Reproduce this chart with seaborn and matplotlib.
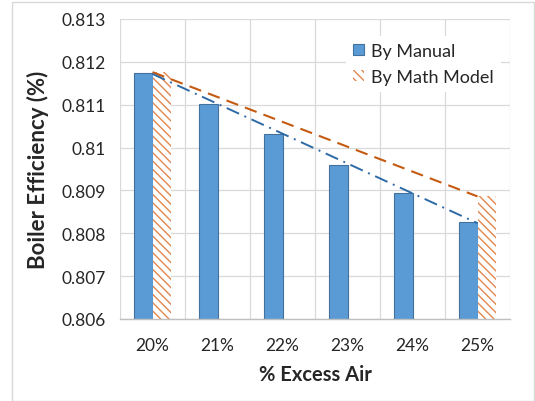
import numpy as np
import pandas as pd
import matplotlib
matplotlib.use("Agg")
import matplotlib.pyplot as plt
import seaborn as sns
from matplotlib.patches import Patch, Rectangle
from matplotlib.ticker import FuncFormatter

# Boiler efficiency against excess air
categories = ["20%", "21%", "22%", "23%", "24%", "25%"]
by_manual = [0.81174, 0.81102, 0.81031, 0.80960, 0.80893, 0.80826]
by_math_model = [0.81176, np.nan, np.nan, np.nan, np.nan, 0.80886]
series_names = ["By Manual", "By Math Model"]
y_ticks = [0.806, 0.807, 0.808, 0.809, 0.810, 0.811, 0.812, 0.813]

sns.set_theme(style="white")
plt.rcParams["font.family"] = ["Lato", "DejaVu Sans"]
plt.rcParams["hatch.linewidth"] = 1.0

df = pd.DataFrame({
    "Excess Air": categories * 2,
    "Series": [series_names[0]] * len(categories) + [series_names[1]] * len(categories),
    "Efficiency": by_manual + by_math_model,
})

blue = "#5B9BD5"
blue_edge = "#41719C"
orange = "#E2874E"
hatch = "\\\\\\\\"

fig = plt.figure(figsize=(5.35, 4.02), dpi=100)
ax = fig.add_axes([120 / 535, 82 / 402, 390 / 535, 300 / 402])

sns.barplot(data=df, x="Excess Air", y="Efficiency", hue="Series",
            hue_order=series_names, order=categories,
            palette=[blue, "white"], width=0.56, gap=0.0,
            errorbar=None, legend=False, ax=ax)

n = len(categories)
for i, bar in enumerate(ax.patches):
    if i < n:
        bar.set_facecolor(blue)
        bar.set_edgecolor(blue_edge)
        bar.set_linewidth(0.8)
    else:
        bar.set_facecolor("white")
        bar.set_edgecolor(orange)
        bar.set_hatch(hatch)
        bar.set_linewidth(0)

# Linear trendlines through the category centres
xs = np.arange(n)
man = np.array(by_manual)
mm = np.array(by_math_model)
ok = ~np.isnan(mm)
p1 = np.polyfit(xs, man, 1)
p2 = np.polyfit(xs[ok], mm[ok], 1)
ax.plot(xs, np.polyval(p2, xs), color="#C55A11", lw=1.5, ls=(0, (6, 3.5)), zorder=4)
ax.plot(xs, np.polyval(p1, xs), color="#2E6AA6", lw=1.4, ls=(0, (7, 3, 1, 3)), zorder=4)

ax.set_ylim(y_ticks[0], y_ticks[-1])
ax.set_xlim(-0.5, n - 0.5)
ax.set_yticks(y_ticks)
ax.yaxis.set_major_formatter(FuncFormatter(lambda v, _: f"{v:.3f}".rstrip("0")))
ax.set_xticks(xs)
ax.set_xticklabels(categories)
ax.set_xticks(np.arange(-0.5, n, 1), minor=True)

ax.set_axisbelow(True)
ax.grid(axis="y", which="major", color="#D9D9D9", lw=0.9)
ax.grid(axis="x", which="minor", color="#D9D9D9", lw=0.9)
ax.grid(axis="x", which="major", visible=False)
for side in ["top", "right", "left"]:
    ax.spines[side].set_visible(False)
ax.spines["bottom"].set_color("#BFBFBF")
ax.spines["bottom"].set_linewidth(1.0)

ax.tick_params(axis="both", which="both", length=0, labelsize=12.5, colors="#262626")
ax.tick_params(axis="x", pad=13)
ax.tick_params(axis="y", pad=10)

ax.set_xlabel("% Excess Air", fontsize=14.5, fontweight="bold", color="#262626", labelpad=8)
ax.set_ylabel("Boiler Efficiency (%)", fontsize=16, fontweight="bold", color="#262626", labelpad=9)

handles = [Patch(facecolor=blue, edgecolor=blue_edge, linewidth=0.8),
           Patch(facecolor="white", edgecolor=orange, hatch=hatch, linewidth=0)]
leg = ax.legend(handles, series_names, loc="upper right", bbox_to_anchor=(1.0, 0.975),
                frameon=True, fontsize=13, handlelength=0.6, handleheight=0.6,
                handletextpad=0.4, labelspacing=0.55, borderpad=0.4)
leg.get_frame().set_facecolor("white")
leg.get_frame().set_edgecolor("none")
leg.get_frame().set_alpha(1.0)
for t in leg.get_texts():
    t.set_color("#262626")

# Chart area border
fig.patches.append(Rectangle((12 / 535, 0.0), 522 / 535, 399 / 402,
                             transform=fig.transFigure, fill=False,
                             edgecolor="#D9D9D9", lw=1.0))

fig.savefig("out.png", dpi=100, facecolor="white")
